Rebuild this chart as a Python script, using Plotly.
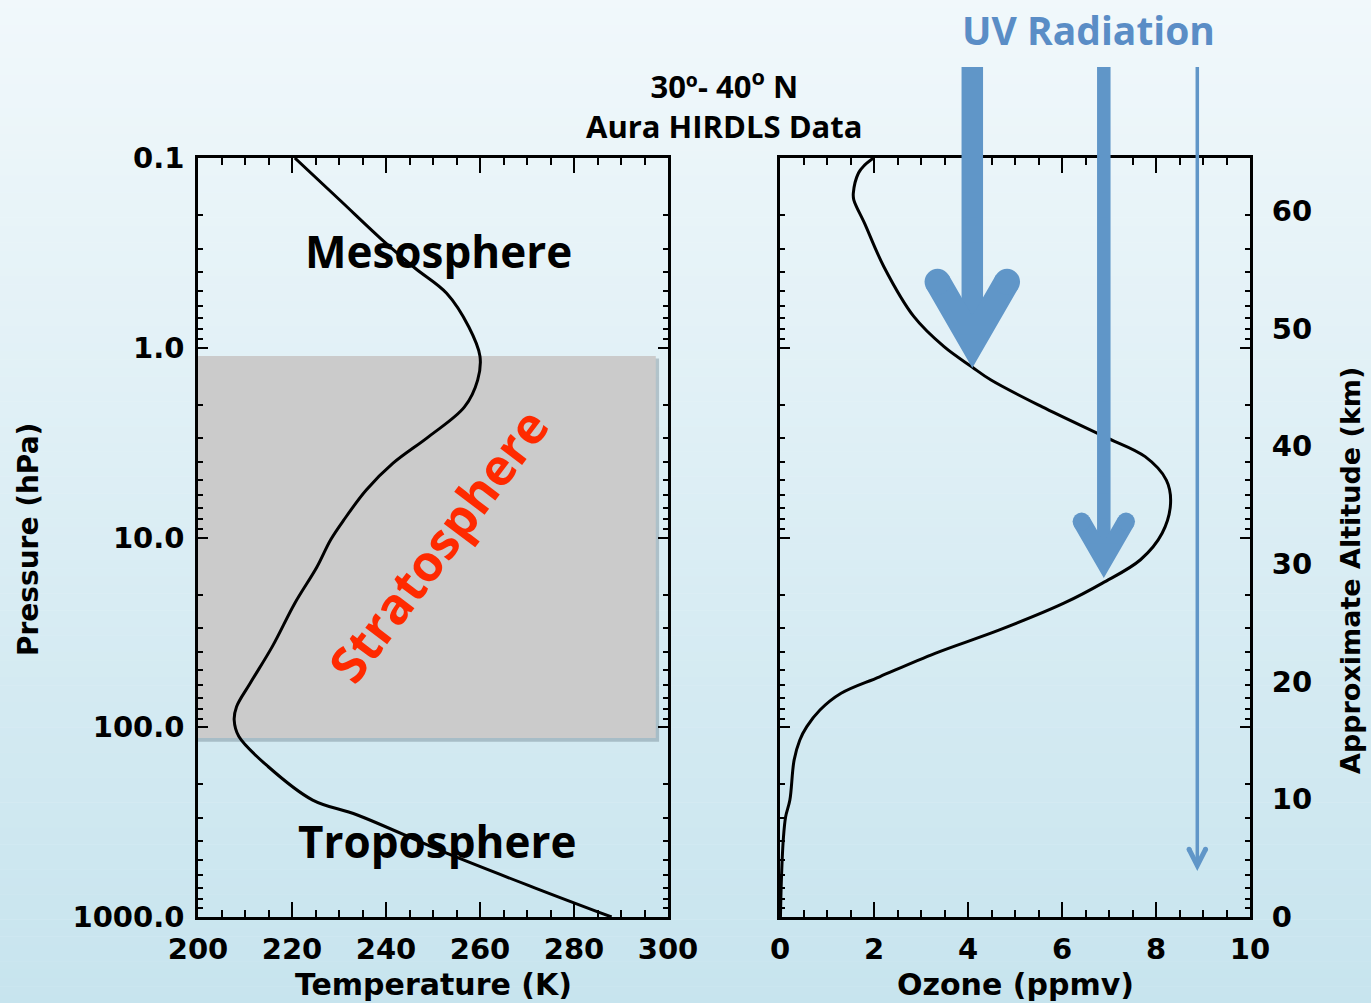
import math
import plotly.graph_objects as go

W, H = 1371, 1003

# ---------------- data ----------------
temp_pressure_hpa = [0.1, 0.166, 0.276, 0.381, 0.516, 0.775, 1.11, 1.48, 2.05, 2.94,
                     4.06, 5.62, 8.1, 10.3, 14.3, 22.2, 37.6, 58.6, 77.9, 91.6,
                     112, 161, 242, 290, 461, 706, 1000]
temperature_k = [220.6, 230.1, 239.6, 246.2, 252.9, 257.6, 260.0, 259.5, 256.7, 249.1,
                 241.5, 235.8, 231.0, 228.2, 225.3, 220.6, 215.8, 211.1, 208.2, 207.7,
                 208.7, 214.9, 224.4, 233.9, 252.9, 271.9, 288.0]

ozone_pressure_hpa = [0.1, 0.109, 0.12, 0.153, 0.166, 0.221, 0.374, 0.686, 0.987, 1.26,
                      1.48, 2.05, 2.94, 3.75, 4.98, 6.6, 9.5, 13.1, 17.4, 22.2,
                      30.7, 40.8, 54.2, 66.2, 81.1, 99.3, 117, 149, 242, 296,
                      391, 632, 1000]
ozone_ppmv = [1.99, 1.80, 1.67, 1.56, 1.57, 1.80, 2.21, 2.85, 3.49, 4.08,
              4.49, 5.58, 6.90, 7.77, 8.22, 8.31, 8.13, 7.67, 6.86, 6.04,
              4.67, 3.30, 2.12, 1.30, 0.85, 0.57, 0.42, 0.30, 0.21, 0.12,
              0.07, 0.03, 0.01]

temp_ticks = [200, 220, 240, 260, 280, 300]
ozone_ticks = [0, 2, 4, 6, 8, 10]
pressure_ticks = [0.1, 1, 10, 100, 1000]
pressure_ticktext = ["0.1", "1.0", "10.0", "100.0", "1000.0"]
altitude_km = [0, 10, 20, 30, 40, 50, 60]
scale_height_km = 7.0
surface_pressure_hpa = 1000.0

strat_top_hpa, strat_bottom_hpa = 1.105, 114.0
strat_t0, strat_t1 = 200.0, 297.4

# ---------------- helpers ----------------
def px(x):
    return x / W

def py(y):
    return 1 - y / H

minor_p = [m * 10 ** e for e in range(-1, 3) for m in range(2, 10)]
alt_pressures = [surface_pressure_hpa * math.exp(-z / scale_height_km) for z in altitude_km]

fig = go.Figure()

# stratosphere box shadow + box
fig.add_trace(go.Scatter(
    x=[strat_t0, strat_t1 + 0.7, strat_t1 + 0.7, strat_t0, strat_t0],
    y=[strat_top_hpa * 1.03, strat_top_hpa * 1.03, strat_bottom_hpa * 1.045, strat_bottom_hpa * 1.045, strat_top_hpa * 1.03],
    fill="toself", fillcolor="rgba(90,110,120,0.35)", line=dict(width=0),
    mode="lines", hoverinfo="skip", showlegend=False, xaxis="x", yaxis="y"))
fig.add_trace(go.Scatter(
    x=[strat_t0, strat_t1, strat_t1, strat_t0, strat_t0],
    y=[strat_top_hpa, strat_top_hpa, strat_bottom_hpa, strat_bottom_hpa, strat_top_hpa],
    fill="toself", fillcolor="#cbcbcb", line=dict(width=0),
    mode="lines", hoverinfo="skip", showlegend=False, xaxis="x", yaxis="y"))

fig.add_trace(go.Scatter(x=temperature_k, y=temp_pressure_hpa, mode="lines",
                         line=dict(color="black", width=3, shape="spline", smoothing=1.0),
                         showlegend=False, xaxis="x", yaxis="y"))
fig.add_trace(go.Scatter(x=ozone_ppmv, y=ozone_pressure_hpa, mode="lines",
                         line=dict(color="black", width=3, shape="spline", smoothing=1.0),
                         showlegend=False, xaxis="x2", yaxis="y2"))
# invisible trace to carry the altitude axis
fig.add_trace(go.Scatter(x=ozone_ppmv, y=ozone_pressure_hpa, mode="markers",
                         marker=dict(opacity=0), hoverinfo="skip",
                         showlegend=False, xaxis="x2", yaxis="y3"))

tickfont = dict(family="DejaVu Sans", size=29, color="black", weight="bold")
common = dict(showline=True, linecolor="black", linewidth=2.5, ticks="inside",
              tickcolor="black", tickwidth=2, mirror="ticks", showgrid=False,
              zeroline=False, tickfont=tickfont, automargin=False)
ydomain = [py(917), py(158)]

fig.update_layout(
    width=W, height=H, margin=dict(l=0, r=0, t=0, b=0, autoexpand=False),
    paper_bgcolor="#eef6fa", plot_bgcolor="rgba(0,0,0,0)",
    showlegend=False,
    xaxis=dict(domain=[px(198), px(668)], range=[200, 300], tickmode="array",
               tickvals=temp_ticks, ticklen=15, anchor="y", ticklabelstandoff=4,
               minor=dict(dtick=5, tick0=200, ticks="inside", ticklen=7, tickwidth=2,
                          tickcolor="black"), **common),
    yaxis=dict(domain=ydomain, type="log", range=[3, -1], tickmode="array",
               tickvals=pressure_ticks, ticktext=pressure_ticktext, ticklen=10,
               anchor="x", ticklabelstandoff=5,
               minor=dict(tickmode="array", tickvals=minor_p, ticks="inside", ticklen=5,
                          tickwidth=2, tickcolor="black"), **common),
    xaxis2=dict(domain=[px(780), px(1250)], range=[0, 10], tickmode="array",
                tickvals=ozone_ticks, ticklen=15, anchor="y2", ticklabelstandoff=4,
                minor=dict(dtick=0.5, tick0=0, ticks="inside", ticklen=7, tickwidth=2,
                           tickcolor="black"), **common),
    yaxis2=dict(domain=ydomain, type="log", range=[3, -1], tickmode="array",
                tickvals=pressure_ticks, ticklen=10, anchor="x2", showticklabels=False,
                minor=dict(tickmode="array", tickvals=minor_p, ticks="inside", ticklen=5,
                           tickwidth=2, tickcolor="black"), **common),
    yaxis3=dict(overlaying="y2", anchor="x2", side="right", type="log", range=[3, -1],
                tickmode="array", tickvals=alt_pressures, ticktext=[str(z) for z in altitude_km],
                ticks="outside", ticklen=15, tickcolor="rgba(0,0,0,0)", showline=False,
                showgrid=False, zeroline=False, tickfont=tickfont, automargin=False),
)

# ---------------- background gradient ----------------
top_c = (241, 248, 251)
bot_c = (199, 228, 238)
nb = 120
shapes = []
for i in range(nb):
    f = (i + 0.5) / nb
    c = tuple(round(top_c[k] + (bot_c[k] - top_c[k]) * f) for k in range(3))
    shapes.append(dict(type="rect", xref="paper", yref="paper", x0=0, x1=1,
                       y0=1 - (i + 1.05) / nb, y1=1 - i / nb, layer="below",
                       fillcolor="rgb(%d,%d,%d)" % c, line=dict(width=0)))

# ---------------- UV arrows ----------------
ARROW = "#6096c8"

def add_arrow(xc, shaft_w, y_top, tip_y, head_w, head_len, ang_deg=30):
    s, c = math.sin(math.radians(ang_deg)), math.cos(math.radians(ang_deg))
    shapes.append(dict(type="rect", xref="paper", yref="paper",
                       x0=px(xc - shaft_w / 2), x1=px(xc + shaft_w / 2),
                       y0=py(tip_y - 1.6 * head_w), y1=py(y_top),
                       fillcolor=ARROW, line=dict(width=0)))
    T = (xc, tip_y)
    dL, dR = (-s, -c), (s, -c)
    nL, nR = (c, -s), (-c, -s)
    oL = (T[0] + head_len * dL[0], T[1] + head_len * dL[1])
    oR = (T[0] + head_len * dR[0], T[1] + head_len * dR[1])
    iL = (oL[0] + head_w * nL[0], oL[1] + head_w * nL[1])
    iR = (oR[0] + head_w * nR[0], oR[1] + head_w * nR[1])
    iv_t = head_w * c / s
    iV = (T[0] + head_w * nL[0] + iv_t * dL[0], T[1] + head_w * nL[1] + iv_t * dL[1])
    pts = [oL, T, oR, iR, iV, iL]
    path = "M " + " L ".join("%.5f,%.5f" % (px(p[0]), py(p[1])) for p in pts) + " Z"
    shapes.append(dict(type="path", xref="paper", yref="paper", path=path,
                       fillcolor=ARROW, line=dict(width=0)))
    r = head_w / 2
    for o, n in ((oL, nL), (oR, nR)):
        cx, cy = o[0] + r * n[0], o[1] + r * n[1]
        shapes.append(dict(type="circle", xref="paper", yref="paper",
                           x0=px(cx - r), x1=px(cx + r), y0=py(cy + r), y1=py(cy - r),
                           fillcolor=ARROW, line=dict(width=0)))

add_arrow(972.3, 21.5, 67, 368, 26, 92)
add_arrow(1103.8, 13.5, 67, 578, 18, 60)
add_arrow(1197.3, 3.5, 67, 871, 5, 23, ang_deg=27)

fig.update_layout(shapes=shapes)

# ---------------- text ----------------
def ann(text, x, y, size, family="Open Sans", color="black", angle=0, weight="bold"):
    fig.add_annotation(text=text, x=px(x), y=py(y), xref="paper", yref="paper",
                       showarrow=False, xanchor="center", yanchor="middle",
                       textangle=angle, borderpad=0,
                       font=dict(family=family, size=size, color=color, weight=weight))

ann("Mesosphere", 438, 251, 44)
ann("Troposphere", 437, 841, 44)
ann("Stratosphere", 438, 545, 50, color="#ff2a00", angle=-53)
ann("30º- 40<sup>o</sup> N<br>Aura HIRDLS Data", 724, 104, 31)
ann("UV Radiation", 1088, 30, 39, color="#5a8dc6")
ann("Temperature (K)", 434, 984, 30, family="DejaVu Sans")
ann("Ozone (ppmv)", 1015, 984, 30, family="DejaVu Sans")
ann("Pressure (hPa)", 28, 540, 28, family="DejaVu Sans", angle=-90)
ann("Approximate Altitude (km)", 1350, 571, 27, family="DejaVu Sans", angle=-90)

fig.write_html("out.html")
